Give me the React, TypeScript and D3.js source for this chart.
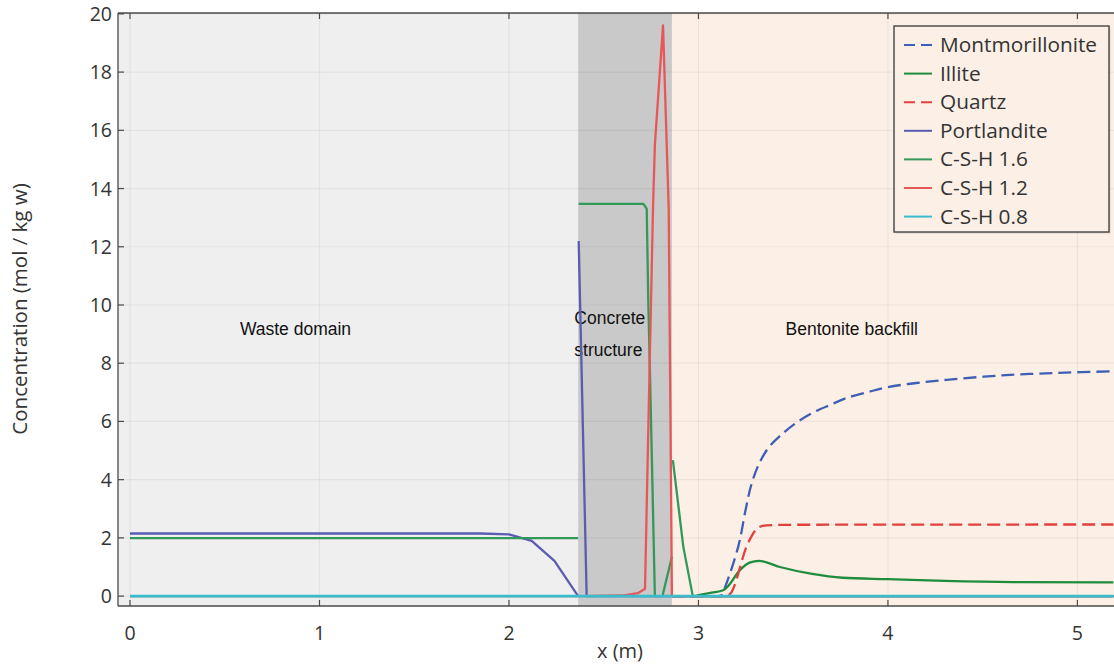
import React from 'react';
import * as d3 from 'd3';

const W = 1114;
const H = 666;

const X_DOMAIN: [number, number] = [-0.0633, 5.193];
const Y_DOMAIN: [number, number] = [-0.34, 20.03];
const xTicks = [0, 1, 2, 3, 4, 5];
const yTicks = [0, 2, 4, 6, 8, 10, 12, 14, 16, 18, 20];

// domain boundaries (m)
const wasteEnd = 2.365;
const concreteEnd = 2.86;

type Pt = [number, number | null];

// Series values, [x (m), concentration]; null breaks the line between domains
const montmorillonite: Pt[] = [
  [2.86, 0], [2.95, 0], [3.03, 0], [3.09, 0], [3.12, 0.02], [3.14, 0.3], [3.21, 1.7], [3.25, 3.0], [3.28, 3.85], [3.32, 4.55],
  [3.37, 5.1], [3.43, 5.5], [3.52, 5.97], [3.61, 6.32], [3.7, 6.58], [3.78, 6.8], [3.9, 7.02], [4.0, 7.18],
  [4.15, 7.32], [4.31, 7.43], [4.6, 7.58], [4.9, 7.67], [5.19, 7.72],
];
const illite: Pt[] = [
  [2.86, 0], [2.97, 0], [3.0, 0.03], [3.07, 0.12], [3.13, 0.2], [3.15, 0.3], [3.22, 0.9], [3.27, 1.15],
  [3.32, 1.21], [3.43, 1.0], [3.6, 0.76], [3.76, 0.63], [4.0, 0.58], [4.3, 0.52], [4.66, 0.48], [5.19, 0.47],
];
const quartz: Pt[] = [
  [2.86, 0], [3.15, 0], [3.17, 0.1], [3.26, 1.8], [3.32, 2.37], [3.36, 2.43], [3.5, 2.45], [5.19, 2.46],
];
const portlandite: Pt[] = [
  [0, 2.15], [1.85, 2.15], [2.0, 2.12], [2.12, 1.9], [2.24, 1.21], [2.365, 0], [2.365, null],
  [2.368, 12.2], [2.41, 0], [2.86, 0], [2.86, null],
  [2.86, 0], [5.19, 0],
];
const csh16: Pt[] = [
  [0, 1.99], [2.365, 1.99], [2.365, null],
  [2.368, 13.47], [2.71, 13.47], [2.727, 13.3], [2.735, 10.2], [2.745, 7.4], [2.77, 0], [2.81, 0], [2.86, 1.35], [2.86, null],
  [2.865, 4.67], [2.92, 1.7], [2.97, 0], [5.19, 0],
];
const csh12: Pt[] = [
  [0, 0], [2.365, 0], [2.365, null],
  [2.365, 0], [2.6, 0.02], [2.68, 0.1], [2.718, 0.25], [2.733, 5], [2.76, 13.3], [2.77, 15.5],
  [2.813, 19.6], [2.843, 13.3], [2.86, 0], [2.86, null],
  [2.86, 0], [5.19, 0],
];
const csh08: Pt[] = [[0, 0], [5.19, 0]];

const seriesNames = ['Montmorillonite', 'Illite', 'Quartz', 'Portlandite', 'C-S-H 1.6', 'C-S-H 1.2', 'C-S-H 0.8'];
const seriesData = [montmorillonite, illite, quartz, portlandite, csh16, csh12, csh08];
const seriesColors = ['#3f5fb5', '#1f8c3e', '#e0413f', '#5a5cb0', '#33995a', '#e85757', '#3bbccd'];
const seriesDash = ['13,6', null, '13,6', null, null, null, null];
const seriesCurve = ['catmull', 'monotone', 'monotone', 'linear', 'linear', 'linear', 'linear'];

const regionLabels = [
  { lines: ['Waste domain'], x: 0.58, y: 335 },
  { lines: ['Concrete', 'structure'], x: 2.345, y: 324 },
  { lines: ['Bentonite backfill'], x: 3.46, y: 335 },
];

export default function App() {
  const L = 118, R = W, T = 13, B = 606;
  const x = d3.scaleLinear().domain(X_DOMAIN).range([L, R]);
  const y = d3.scaleLinear().domain(Y_DOMAIN).range([B, T]);

  const curves: Record<string, d3.CurveFactory> = {
    catmull: d3.curveCatmullRom.alpha(0.5),
    monotone: d3.curveMonotoneX,
    linear: d3.curveLinear,
  };
  const mkLine = (c: string) =>
    d3.line<Pt>()
      .defined((d) => d[1] !== null)
      .x((d) => x(d[0]))
      .y((d) => y(Math.max(0, d[1] as number)))
      .curve(curves[c]);

  const tickFont = "'Open Sans', 'Noto Sans', sans-serif";
  const labelFont = "'Liberation Sans', Arial, sans-serif";

  const legendX = 894, legendY = 26, legendW = 215, legendH = 206;
  const rowH = 28.6;

  return (
    <svg width={W} height={H} style={{ position: 'absolute', left: 0, top: 0 }} xmlns="http://www.w3.org/2000/svg">
      <rect x={0} y={0} width={W} height={H} fill="#ffffff" />
      <defs>
        <clipPath id="plot">
          <rect x={L} y={T} width={R - L} height={B - T} />
        </clipPath>
      </defs>
      {/* domain backgrounds */}
      <rect x={L} y={T} width={x(wasteEnd) - L} height={B - T} fill="#efefef" />
      <rect x={x(wasteEnd)} y={T} width={x(concreteEnd) - x(wasteEnd)} height={B - T} fill="#c9c9c9" />
      <rect x={x(concreteEnd)} y={T} width={R - x(concreteEnd)} height={B - T} fill="#fcefe5" />
      {/* grid */}
      <g stroke="rgba(0,0,0,0.05)" strokeWidth={1.2}>
        {xTicks.map((t) => (
          <line key={'gx' + t} x1={x(t)} x2={x(t)} y1={T} y2={B} />
        ))}
        {yTicks.map((t) => (
          <line key={'gy' + t} x1={L} x2={R} y1={y(t)} y2={y(t)} />
        ))}
      </g>
      {/* region labels */}
      {regionLabels.map((r, i) => (
        <text key={'rl' + i} fontFamily={labelFont} fontSize={17.5} fill="#111">
          {r.lines.map((ln, j) => (
            <tspan key={j} x={x(r.x)} y={r.y + j * 32}>{ln}</tspan>
          ))}
        </text>
      ))}
      {/* series */}
      <g clipPath="url(#plot)" fill="none" strokeLinejoin="round">
        {seriesData.map((d, i) => (
          <path
            key={seriesNames[i]}
            d={mkLine(seriesCurve[i])(d) || ''}
            stroke={seriesColors[i]}
            strokeWidth={i === 6 ? 2.6 : 2.3}
            strokeDasharray={seriesDash[i] || undefined}
          />
        ))}
      </g>
      {/* frame */}
      <g stroke="#4a4a4a" strokeWidth={1.3} fill="none">
        <line x1={L} x2={R} y1={T} y2={T} />
        <line x1={L} x2={R} y1={B} y2={B} />
        <line x1={L} x2={L} y1={T} y2={B} />
      </g>
      {/* ticks */}
      <g stroke="#4a4a4a" strokeWidth={1.2}>
        {xTicks.map((t) => (
          <g key={'tx' + t}>
            <line x1={x(t)} x2={x(t)} y1={B} y2={B - 6} />
            <line x1={x(t)} x2={x(t)} y1={T} y2={T + 6} />
          </g>
        ))}
        {yTicks.map((t) => (
          <line key={'ty' + t} x1={L} x2={L + 6} y1={y(t)} y2={y(t)} />
        ))}
      </g>
      {/* tick labels */}
      <g fontFamily={tickFont} fontSize={19.5} fill="#333">
        {xTicks.map((t) => (
          <text key={'lx' + t} x={x(t)} y={640} textAnchor="middle">{t}</text>
        ))}
        {yTicks.map((t) => (
          <text key={'ly' + t} x={112} y={y(t) + 7} textAnchor="end">{t}</text>
        ))}
      </g>
      {/* axis titles */}
      <text x={620} y={658} textAnchor="middle" fontFamily={tickFont} fontSize={20} fill="#333">x (m)</text>
      <text
        transform="translate(27,309) rotate(-90)"
        textAnchor="middle"
        fontFamily={tickFont}
        fontSize={20.5}
        fill="#333"
      >
        Concentration (mol / kg w)
      </text>
      {/* legend */}
      <g>
        <rect x={legendX + 1.5} y={legendY + 1.5} width={legendW} height={legendH} fill="rgba(0,0,0,0.12)" />
        <rect x={legendX} y={legendY} width={legendW} height={legendH} fill="#fcefe5" stroke="#444" strokeWidth={1.4} />
        {seriesNames.map((n, i) => {
          const cy = legendY + 19 + i * rowH;
          return (
            <g key={'lg' + n}>
              <line
                x1={legendX + 10}
                x2={legendX + 38}
                y1={cy}
                y2={cy}
                stroke={seriesColors[i]}
                strokeWidth={2}
                strokeDasharray={seriesDash[i] ? '11,6' : undefined}
              />
              <text x={legendX + 46} y={cy + 7} fontFamily={tickFont} fontSize={20.8} fill="#333">{n}</text>
            </g>
          );
        })}
      </g>
    </svg>
  );
}
